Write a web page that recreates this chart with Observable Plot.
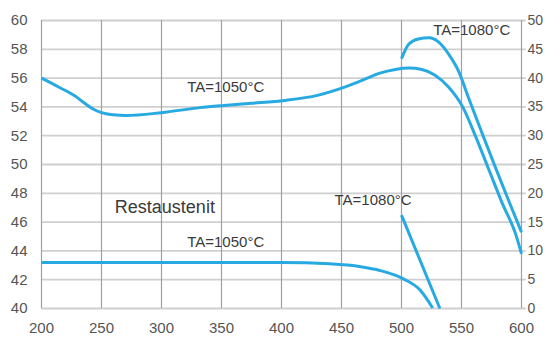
<!DOCTYPE html>
<html>
<head>
<meta charset="utf-8">
<script src="https://cdn.jsdelivr.net/npm/d3@7"></script>
<script src="https://cdn.jsdelivr.net/npm/@observablehq/plot@0.6"></script>
<style>
  html, body { margin: 0; padding: 0; background: #fff; }
  #chart svg { display: block; }
</style>
</head>
<body>
<div id="chart"></div>
<script>
// Temperature axis (°C)
const xTicks = [200, 250, 300, 350, 400, 450, 500, 550, 600];
// Left axis: hardness (HRC)
const leftTicks = [40, 42, 44, 46, 48, 50, 52, 54, 56, 58, 60];
// Right axis: retained austenite (%)
const rightTicks = [0, 5, 10, 15, 20, 25, 30, 35, 40, 45, 50];

// Hardness, TA = 1050 °C
const hard1050T = [200, 215, 228, 236, 243, 250, 260, 270, 300, 332, 352, 375, 403, 430, 452, 466, 482, 495, 506, 517, 528, 539, 551, 562, 573, 584, 595, 600];
const hard1050V = [56, 55.35, 54.75, 54.25, 53.85, 53.6, 53.45, 53.4, 53.6, 53.95, 54.1, 54.25, 54.45, 54.8, 55.35, 55.8, 56.35, 56.6, 56.7, 56.6, 56.2, 55.4, 54.0, 51.9, 49.6, 47.3, 45.2, 43.8];

// Hardness, TA = 1080 °C
const hard1080T = [500, 506, 514, 523, 531, 539, 548, 556, 567, 578, 589, 600];
const hard1080V = [57.35, 58.35, 58.72, 58.8, 58.5, 57.7, 56.4, 54.6, 52.2, 49.85, 47.55, 45.3];

// Retained austenite (%), TA = 1050 °C
const rest1050T = [200, 300, 400, 440, 466, 482, 502, 516, 526];
const rest1050V = [8, 8, 8, 7.75, 7.25, 6.6, 5.1, 3.1, 0.1];

// Retained austenite (%), TA = 1080 °C
const rest1080T = [500, 532];
const rest1080V = [16.2, 0];

// right axis (%) -> left scale units
const pctToY = p => 40 + p / 2.5;

const hard1050 = hard1050T.map((t, i) => ({t, v: hard1050V[i]}));
const hard1080 = hard1080T.map((t, i) => ({t, v: hard1080V[i]}));
const rest1050 = rest1050T.map((t, i) => ({t, v: pctToY(rest1050V[i])}));
const rest1080 = rest1080T.map((t, i) => ({t, v: pctToY(rest1080V[i])}));

const blue = "#27a9e1";
const font = "Liberation Sans, Arial, sans-serif";
const lineOpts = {x: "t", y: "v", stroke: blue, strokeWidth: 3, curve: "monotone-x", strokeLinecap: "butt"};

const chart = Plot.plot({
  width: 546,
  height: 337,
  marginLeft: 41,
  marginRight: 25,
  marginTop: 20,
  marginBottom: 29,
  style: {fontFamily: font, background: "#fff", overflow: "visible"},
  x: {domain: [200, 600], ticks: xTicks},
  y: {domain: [40, 60], ticks: leftTicks},
  marks: [
    Plot.ruleY(leftTicks, {x1: 200, x2: 604, stroke: "#cfcfcf", strokeWidth: 1.8}),
    Plot.ruleX(xTicks, {y1: 40, y2: 60, stroke: "#a0a0a0", strokeWidth: 1.2}),
    Plot.axisX({ticks: xTicks, tickSize: 0, tickPadding: 14, fontSize: 15, fill: "#555", label: null}),
    Plot.axisY({anchor: "left", ticks: leftTicks, tickSize: 0, tickPadding: 14, fontSize: 15, fill: "#555", label: null}),
    Plot.axisY({anchor: "right", ticks: rightTicks.map(pctToY), tickFormat: (d, i) => String(rightTicks[i]), tickSize: 0, tickPadding: 6, fontSize: 14, fill: "#555", label: null}),
    Plot.line(hard1050, lineOpts),
    Plot.line(hard1080, lineOpts),
    Plot.line(rest1050, lineOpts),
    Plot.line(rest1080, {...lineOpts, curve: "linear"}),
    Plot.text(["TA=1080°C"], {x: 558.5, y: 59.3, fontSize: 15, fill: "#3a3a3a", textAnchor: "middle"}),
    Plot.text(["TA=1050°C"], {x: 353.5, y: 55.4, fontSize: 15, fill: "#3a3a3a", textAnchor: "middle"}),
    Plot.text(["Restaustenit"], {x: 302.8, y: 47.05, fontSize: 18, fill: "#3a3a3a", textAnchor: "middle"}),
    Plot.text(["TA=1080°C"], {x: 476.3, y: 47.5, fontSize: 15, fill: "#3a3a3a", textAnchor: "middle"}),
    Plot.text(["TA=1050°C"], {x: 353.5, y: 44.6, fontSize: 15, fill: "#3a3a3a", textAnchor: "middle"})
  ]
});
document.getElementById("chart").appendChild(chart);
</script>
</body>
</html>
